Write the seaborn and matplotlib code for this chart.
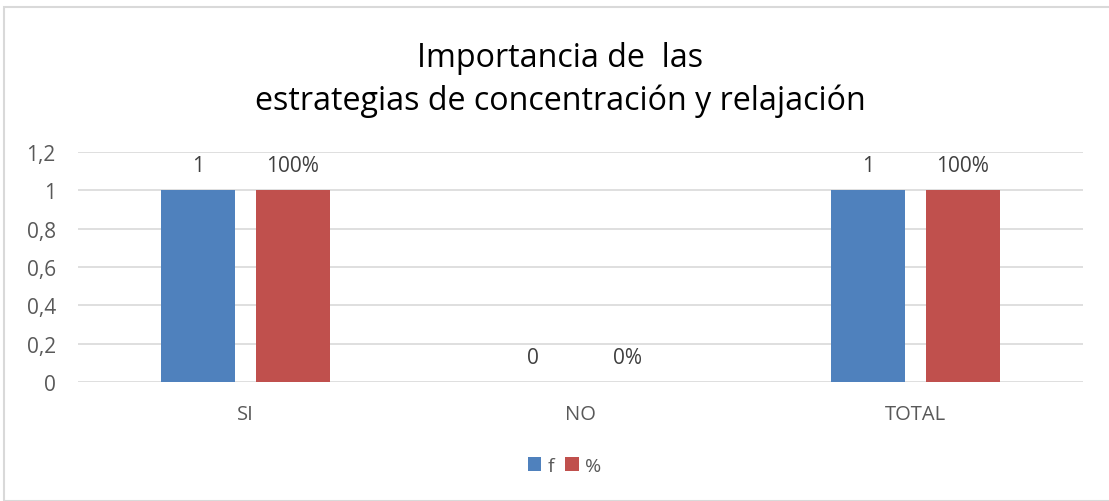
import matplotlib
matplotlib.use("Agg")
import matplotlib.pyplot as plt
import seaborn as sns
import pandas as pd
from matplotlib.patches import Rectangle

categories = ["SI", "NO", "TOTAL"]
f_values = [1, 0, 1]
pct_values = [1.0, 0.0, 1.0]
series_names = ["f", "%"]
yticks = [0, 0.2, 0.4, 0.6, 0.8, 1.0, 1.2]
ytick_labels = ["0", "0,2", "0,4", "0,6", "0,8", "1", "1,2"]
title = "Importancia de  las\nestrategias de concentración y relajación"

df = pd.DataFrame({
    "cat": categories * 2,
    "serie": [series_names[0]] * 3 + [series_names[1]] * 3,
    "val": f_values + pct_values,
})

sns.set_theme(style="white")
plt.rcParams["font.family"] = ["Open Sans", "DejaVu Sans"]

fig = plt.figure(figsize=(11.09, 5.02), dpi=100)
ax = fig.add_axes([78 / 1109, 1 - 383 / 502, (1083 - 78) / 1109, (383 - 153) / 502])

fig.patches.append(Rectangle((4 / 1109, 0), 1.2, 1 - 8 / 502, transform=fig.transFigure,
                             fill=False, edgecolor="#d9d9d9", linewidth=1.5))

colors = ["#4F81BD", "#C0504D"]
sns.barplot(data=df, x="cat", y="val", hue="serie", palette=colors, width=0.567, gap=0.22,
            ax=ax, saturation=1, edgecolor="none", legend=True)

ax.set_ylim(0, 1.2)
ax.set_xlim(-0.5, 2.5)
ax.set_yticks(yticks)
ax.set_yticklabels(ytick_labels)
ax.yaxis.grid(True, color="#d9d9d9", linewidth=1.2)
ax.set_axisbelow(True)
for s in ax.spines.values():
    s.set_visible(False)
ax.set_xlabel("")
ax.set_ylabel("")
ax.tick_params(axis="y", length=0, pad=16, labelsize=15, labelcolor="#595959")
ax.tick_params(axis="x", length=0, pad=16, labelsize=14.5, labelcolor="#595959")

labels_f = [str(v) for v in f_values]
labels_p = [f"{int(round(v * 100))}%" for v in pct_values]
ax.bar_label(ax.containers[0], labels=labels_f, padding=10, fontsize=15, color="#404040")
ax.bar_label(ax.containers[1], labels=labels_p, padding=10, fontsize=15, color="#404040")

leg = ax.legend(loc="center", bbox_to_anchor=(0.509, (1 - 467 / 502), 0, 0),
                bbox_transform=fig.transFigure, ncol=2, frameon=False, fontsize=14,
                handlelength=0.7, handleheight=0.7, handletextpad=0.3, columnspacing=0.6,
                title=None)
for t in leg.get_texts():
    t.set_color("#595959")

fig.text(0.505, 1 - 80 / 502, title, ha="center", va="center", fontsize=23.2,
         color="#000000", linespacing=1.4)

fig.savefig("out.png", dpi=100)
